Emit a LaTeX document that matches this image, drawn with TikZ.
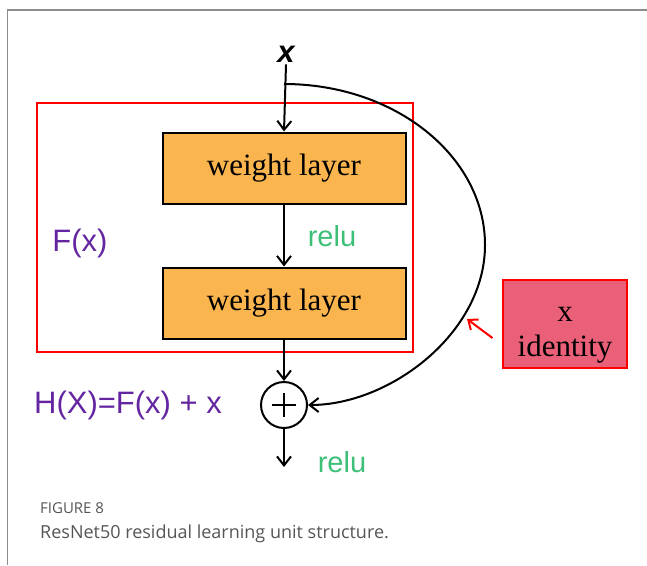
\documentclass[tikz,border=0pt]{standalone}
\usepackage{fontspec}
\setmainfont{Liberation Serif}
\setsansfont{Liberation Sans}
\newfontfamily\capfont{Open Sans}
\usetikzlibrary{arrows.meta}
\definecolor{framegray}{HTML}{8C8C8C}
\definecolor{boxorange}{HTML}{FBB54F}
\definecolor{idred}{HTML}{EA6078}
\definecolor{relugreen}{HTML}{3DBF78}
\definecolor{fpurple}{HTML}{6426A0}
\definecolor{capgray}{HTML}{555555}
\tikzset{
  wlayer/.style={draw=black, line width=2pt, fill=boxorange, minimum width=243pt, minimum height=71pt, inner sep=0pt, font=\fontsize{31}{36}\selectfont},
  flow/.style={line width=2pt, -{Straight Barb[length=9pt,width=14pt,line width=2pt]}},
  relutext/.style={text=relugreen, font=\sffamily\fontsize{29}{34}\selectfont},
  purptext/.style={text=fpurple, font=\sffamily\fontsize{31}{36}\selectfont},
}
\begin{document}
\begin{tikzpicture}[x=1pt,y=-1pt]
\useasboundingbox (0,0) rectangle (647,565);
% figure frame
\draw[framegray, line width=1.5pt] (7.5,565) -- (7.5,10) -- (647,10);
% red F(x) region
\node[draw=red, line width=2pt, minimum width=376pt, minimum height=249pt, inner sep=0pt] (fbox) at (225,227.5) {};
% nodes
\node[font=\sffamily\bfseries\itshape\fontsize{31}{36}\selectfont, inner sep=2pt] (xin) at (286,54) {x};
\node[wlayer] (w1) at (284,168) {\raisebox{-4pt}{weight layer}};
\node[wlayer] (w2) at (284,303) {\raisebox{-4pt}{weight layer}};
\node[draw=black, line width=2pt, circle, minimum size=46pt, inner sep=0pt] (plus) at (284,405) {};
\draw[line width=1.5pt] ([xshift=-12pt]plus.center) -- ([xshift=12pt]plus.center);
\draw[line width=1.5pt] ([yshift=-12pt]plus.center) -- ([yshift=12pt]plus.center);
\coordinate (split) at (284,84);
\coordinate (out) at (284,467);
% labels
\node[relutext] (relu1) at (332,236) {relu};
\node[relutext] (relu2) at (342,462) {relu};
\node[purptext] (fx) at (80,243) {F(x)};
\node[purptext] (hx) at (128,405) {H(X)=F(x) + x};
% identity box
\node[draw=red, line width=2pt, fill=idred, minimum width=124pt, minimum height=88pt, inner sep=0pt] (idbox) at (565,324) {};
\node[align=center, font=\fontsize{31}{35}\selectfont, inner sep=0pt] (idtext) at ([yshift=-11pt]idbox.center) {x\\identity};
\coordinate (ra) at (492.5,338);
\coordinate (rb) at (467,319);
\draw[red, line width=2pt, -{Straight Barb[length=8pt,width=13pt,line width=2pt]}] (ra) -- (rb);
% connectors
\draw[flow] (xin.south) -- (w1.north);
\draw[flow] (w1.south) -- (w2.north);
\draw[flow] (w2.south) -- (plus.north);
\draw[flow] (plus.south) -- (out);
\draw[flow] (split) .. controls (395.5,84) and (485,156.6) .. (485,245) .. controls (485,333) and (390,405) .. (plus.east);
% caption
\node[anchor=base west, text=capgray, font=\capfont\fontsize{15}{18}\selectfont, inner sep=0pt] (figlab) at (40,513) {FIGURE 8};
\node[anchor=base west, text=capgray, font=\capfont\fontsize{18}{21}\selectfont, inner sep=0pt] (cap) at (40,538) {ResNet50 residual learning unit structure.};
\end{tikzpicture}
\end{document}
